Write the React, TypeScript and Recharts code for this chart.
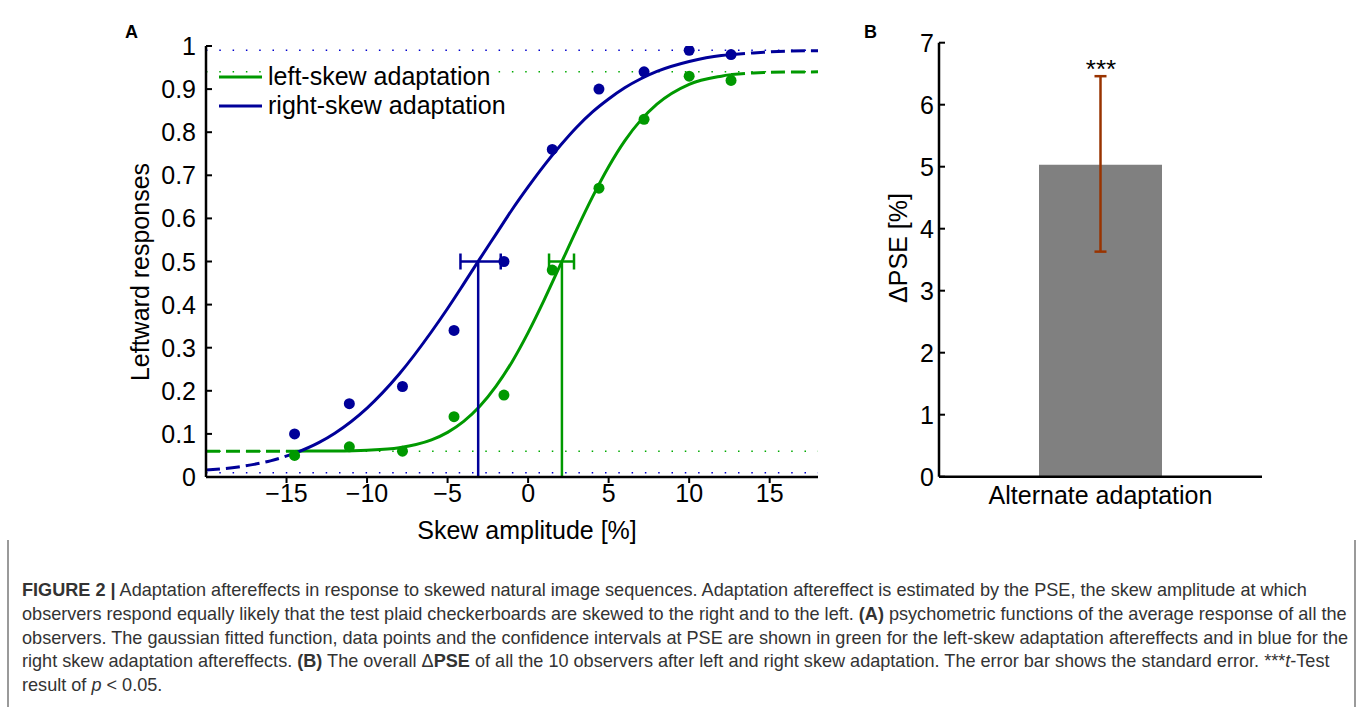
import React from "react";
import { ComposedChart, Line, Scatter, XAxis, YAxis, ReferenceLine, ErrorBar, Legend, Bar } from "recharts";

const GREEN = "#009900";
const BLUE = "#000099";
const BROWN = "#993300";
const FONT = '"Liberation Sans", Arial, Helvetica, sans-serif';
const FS = 25;

// panel A: psychometric functions
const xTicksA = [-15, -10, -5, 0, 5, 10, 15];
const yTicksA = [0, 0.1, 0.2, 0.3, 0.4, 0.5, 0.6, 0.7, 0.8, 0.9, 1];

const skewLevels = [-14.5, -11.1, -7.8, -4.6, -1.5, 1.5, 4.4, 7.2, 10.0, 12.6];
const leftSkewResp = [0.05, 0.07, 0.06, 0.14, 0.19, 0.48, 0.67, 0.83, 0.93, 0.92];
const rightSkewResp = [0.1, 0.17, 0.21, 0.34, 0.5, 0.76, 0.9, 0.94, 0.99, 0.98];

// fitted curves
const fitX = [-20, -18, -16, -14.5, -13, -12, -10, -8, -6, -5, -4, -3, -2, -1, 0, 1, 2, 3, 4, 5, 6, 7, 8, 10, 12, 12.6, 14, 16, 18];
const leftSkewFit = [0.06, 0.06, 0.06, 0.06, 0.0602, 0.0604, 0.0622, 0.068, 0.086, 0.1035, 0.129, 0.164, 0.21, 0.267, 0.335, 0.411, 0.492, 0.573, 0.65, 0.72, 0.78, 0.828, 0.865, 0.911, 0.93, 0.9336, 0.9375, 0.9395, 0.94];
const rightSkewFit = [0.016, 0.0234, 0.0375, 0.0547, 0.0798, 0.1017, 0.16, 0.239, 0.337, 0.391, 0.448, 0.506, 0.563, 0.62, 0.673, 0.723, 0.769, 0.811, 0.847, 0.877, 0.903, 0.924, 0.941, 0.964, 0.978, 0.98, 0.984, 0.988, 0.989];

const dataRange = [-14.5, 12.6];

const leftPse = 2.1;
const leftPseCI = [1.3, 2.85];
const rightPse = -3.1;
const rightPseCI = [-4.2, -1.7];

const leftAsym = [0.06, 0.94];
const rightAsym = [0.01, 0.99];

// panel B
const conditions = ["Alternate adaptation"];
const deltaPse = [5.03];
const deltaPseLow = [3.63];
const deltaPseHigh = [6.46];
const yTicksB = [0, 1, 2, 3, 4, 5, 6, 7];

const toPts = (xs: number[], ys: number[]) => xs.map((x, i) => ({ x, y: ys[i] }));
const leftFitPts = toPts(fitX, leftSkewFit);
const rightFitPts = toPts(fitX, rightSkewFit);
const inner = (p: { x: number }) => p.x >= dataRange[0] && p.x <= dataRange[1];
const lowTail = (p: { x: number }) => p.x <= dataRange[0];
const highTail = (p: { x: number }) => p.x >= dataRange[1];

const pseData = (pse: number, ci: number[]) => [{ x: pse, y: 0.5, err: [pse - ci[0], ci[1] - pse] }];

const fmtA = (v: number) => (v < 0 ? "\u2212" + Math.abs(v) : String(v));

const XTickA = ({ x, y, payload }: any) => (
  <g>
    <line x1={x} x2={x} y1={y} y2={y + 6} stroke="#000" strokeWidth={2} />
    <text x={x} y={y + 25} textAnchor="middle" fontSize={FS} fontFamily={FONT} fill="#000">
      {fmtA(payload.value)}
    </text>
  </g>
);

const YTickA = ({ x, y, payload }: any) => (
  <g>
    <line x1={x} x2={x + 6} y1={y} y2={y} stroke="#000" strokeWidth={2} />
    <text x={x - 10} y={y + 9} textAnchor="end" fontSize={FS} fontFamily={FONT} fill="#000">
      {payload.value === 0 || payload.value === 1 ? String(payload.value) : payload.value.toFixed(1)}
    </text>
  </g>
);

const YTickB = ({ x, y, payload }: any) => (
  <g>
    <line x1={x} x2={x + 6} y1={y} y2={y} stroke="#000" strokeWidth={2} />
    <text x={x - 5} y={y + 9} textAnchor="end" fontSize={FS} fontFamily={FONT} fill="#000">
      {payload.value}
    </text>
  </g>
);

const XTickB = ({ x, y, payload }: any) => (
  <text x={x} y={y + 27} textAnchor="middle" fontSize={FS} fontFamily={FONT} fill="#000">
    {payload.value}
  </text>
);

const Dot = (color: string) => (p: any) => <circle cx={p.cx} cy={p.cy} r={5.5} fill={color} />;
const NoShape = () => <g />;

const LegendBox = ({ payload }: any) => (
  <div style={{ fontFamily: FONT, fontSize: FS, lineHeight: "29.3px" }}>
    {(payload || [])
      .filter((e: any) => e.type !== "none" && e.value && e.value !== "y")
      .map((e: any) => (
        <div key={e.value} style={{ display: "flex", alignItems: "center", height: 29.3 }}>
          <svg width={44} height={10} style={{ marginRight: 5, flex: "none" }}>
            <line x1={0} x2={43} y1={5} y2={5} stroke={e.color} strokeWidth={3} />
          </svg>
          <span style={{ background: "#fff", color: "#000", whiteSpace: "nowrap" }}>{e.value}</span>
        </div>
      ))}
  </div>
);

const abs = (s: React.CSSProperties): React.CSSProperties => ({ position: "absolute", whiteSpace: "nowrap", ...s });

const captionLines: React.ReactNode[] = [
  <>
    <b>FIGURE 2 |</b> Adaptation aftereffects in response to skewed natural image sequences. Adaptation aftereffect is estimated by the PSE, the skew amplitude at which
  </>,
  <>
    observers respond equally likely that the test plaid checkerboards are skewed to the right and to the left. <b>(A)</b> psychometric functions of the average response of all the
  </>,
  <>
    observers. The gaussian fitted function, data points and the confidence intervals at PSE are shown in green for the left-skew adaptation aftereffects and in blue for the
  </>,
  <>
    right skew adaptation aftereffects. <b>(B)</b> The overall {"\u0394"}
    <b>PSE</b> of all the 10 observers after left and right skew adaptation. The error bar shows the standard error. ***<i>t</i>-Test
  </>,
  <>
    result of <i>p</i> {"<"} 0.05.
  </>,
];

export default function App() {
  const barData = conditions.map((name, i) => ({
    name,
    value: deltaPse[i],
    err: [deltaPse[i] - deltaPseLow[i], deltaPseHigh[i] - deltaPse[i]],
  }));

  return (
    <div style={{ position: "absolute", left: 0, top: 0, width: 1357, height: 710, background: "#fff", overflow: "hidden", fontFamily: FONT }}>
      <div style={abs({ left: 0, top: 0 })}>
        <ComposedChart width={830} height={560} margin={{ top: 46, right: 12, bottom: 0, left: 146 }}>
          <XAxis
            type="number"
            dataKey="x"
            domain={[-20, 18]}
            ticks={xTicksA}
            allowDataOverflow
            height={83}
            tickSize={0}
            tickMargin={0}
            tickLine={false}
            tick={<XTickA />}
            axisLine={{ stroke: "#000", strokeWidth: 2.5 }}
          />
          <YAxis
            type="number"
            dataKey="y"
            domain={[0, 1]}
            ticks={yTicksA}
            allowDataOverflow
            width={60}
            tickSize={0}
            tickMargin={0}
            tickLine={false}
            tick={<YTickA />}
            axisLine={{ stroke: "#000", strokeWidth: 2.5 }}
          />
          <ReferenceLine y={rightAsym[1]} stroke="#0000cc" strokeWidth={1.5} strokeDasharray="1.5 11.8" />
          <ReferenceLine y={leftAsym[1]} stroke="#00aa00" strokeWidth={1.5} strokeDasharray="1.5 11.8" />
          <ReferenceLine y={leftAsym[0]} stroke="#00aa00" strokeWidth={1.5} strokeDasharray="1.5 11.8" />
          <ReferenceLine y={rightAsym[0]} stroke="#0000cc" strokeWidth={1.5} strokeDasharray="1.5 11.8" />

          <Line data={leftFitPts.filter(lowTail)} dataKey="y" type="monotone" stroke={GREEN} strokeWidth={3} strokeDasharray="14 6" dot={false} legendType="none" isAnimationActive={false} />
          <Line data={leftFitPts.filter(highTail)} dataKey="y" type="monotone" stroke={GREEN} strokeWidth={3} strokeDasharray="14 6" dot={false} legendType="none" isAnimationActive={false} />
          <Line data={rightFitPts.filter(lowTail)} dataKey="y" type="monotone" stroke={BLUE} strokeWidth={3} strokeDasharray="14 6" dot={false} legendType="none" isAnimationActive={false} />
          <Line data={rightFitPts.filter(highTail)} dataKey="y" type="monotone" stroke={BLUE} strokeWidth={3} strokeDasharray="14 6" dot={false} legendType="none" isAnimationActive={false} />
          <Line data={leftFitPts.filter(inner)} dataKey="y" name="left-skew adaptation" type="monotone" stroke={GREEN} strokeWidth={3} dot={false} isAnimationActive={false} />
          <Line data={rightFitPts.filter(inner)} dataKey="y" name="right-skew adaptation" type="monotone" stroke={BLUE} strokeWidth={3} dot={false} isAnimationActive={false} />

          <ReferenceLine segment={[{ x: rightPse, y: 0 }, { x: rightPse, y: 0.5 }]} stroke={BLUE} strokeWidth={2.5} />
          <ReferenceLine segment={[{ x: leftPse, y: 0 }, { x: leftPse, y: 0.5 }]} stroke={GREEN} strokeWidth={2.5} />

          <Scatter data={toPts(skewLevels, leftSkewResp)} dataKey="y" shape={Dot(GREEN)} legendType="none" isAnimationActive={false} />
          <Scatter data={toPts(skewLevels, rightSkewResp)} dataKey="y" shape={Dot(BLUE)} legendType="none" isAnimationActive={false} />

          <Scatter data={pseData(rightPse, rightPseCI)} dataKey="y" shape={NoShape} legendType="none" isAnimationActive={false}>
            <ErrorBar dataKey="err" direction="x" width={8} stroke={BLUE} strokeWidth={2.5} isAnimationActive={false} />
          </Scatter>
          <Scatter data={pseData(leftPse, leftPseCI)} dataKey="y" shape={NoShape} legendType="none" isAnimationActive={false}>
            <ErrorBar dataKey="err" direction="x" width={8} stroke={GREEN} strokeWidth={2.5} isAnimationActive={false} />
          </Scatter>

          <Legend
            layout="vertical"
            verticalAlign="middle"
            align="center"
            content={<LegendBox />}
            wrapperStyle={{ left: 219, top: 62, width: "auto", height: "auto" }}
          />
        </ComposedChart>
      </div>

      <div style={abs({ left: 860, top: 0 })}>
        <ComposedChart width={420} height={560} data={barData} margin={{ top: 42.7, right: 18, bottom: 0, left: 39 }}>
          <XAxis
            dataKey="name"
            type="category"
            height={83.3}
            tickSize={0}
            tickMargin={0}
            tickLine={false}
            tick={<XTickB />}
            axisLine={{ stroke: "#000", strokeWidth: 2.5 }}
          />
          <YAxis
            type="number"
            domain={[0, 7]}
            ticks={yTicksB}
            width={40}
            tickSize={0}
            tickMargin={0}
            tickLine={false}
            tick={<YTickB />}
            axisLine={{ stroke: "#000", strokeWidth: 2.5 }}
          />
          <Bar dataKey="value" fill="#808080" barSize={123} isAnimationActive={false}>
            <ErrorBar dataKey="err" direction="y" width={6} stroke={BROWN} strokeWidth={2.5} isAnimationActive={false} />
          </Bar>
        </ComposedChart>
      </div>

      <div style={abs({ left: 125, top: 22, fontWeight: "bold", fontSize: 18 })}>A</div>
      <div style={abs({ left: 864, top: 22, fontWeight: "bold", fontSize: 18 })}>B</div>
      <div style={abs({ left: 140, top: 272, fontSize: FS, transform: "translate(-50%, -50%) rotate(-90deg)" })}>Leftward responses</div>
      <div style={abs({ left: 527, top: 530, fontSize: FS, transform: "translate(-50%, -50%)" })}>Skew amplitude [%]</div>
      <div style={abs({ left: 898, top: 248, fontSize: FS, transform: "translate(-50%, -50%) rotate(-90deg)" })}>{"\u0394PSE [%]"}</div>
      <div style={abs({ left: 1101, top: 69, fontSize: 26, transform: "translate(-50%, -50%)" })}>***</div>

      <div style={abs({ left: 7, top: 540, width: 1.5, height: 167, background: "#9a9a9a" })} />
      <div style={abs({ left: 1354, top: 540, width: 1.5, height: 167, background: "#9a9a9a" })} />
      <div style={abs({ left: 22, top: 579, fontSize: 18.1, lineHeight: "23.8px", color: "#333" })}>
        {captionLines.map((l, i) => (
          <div key={i}>{l}</div>
        ))}
      </div>
    </div>
  );
}
